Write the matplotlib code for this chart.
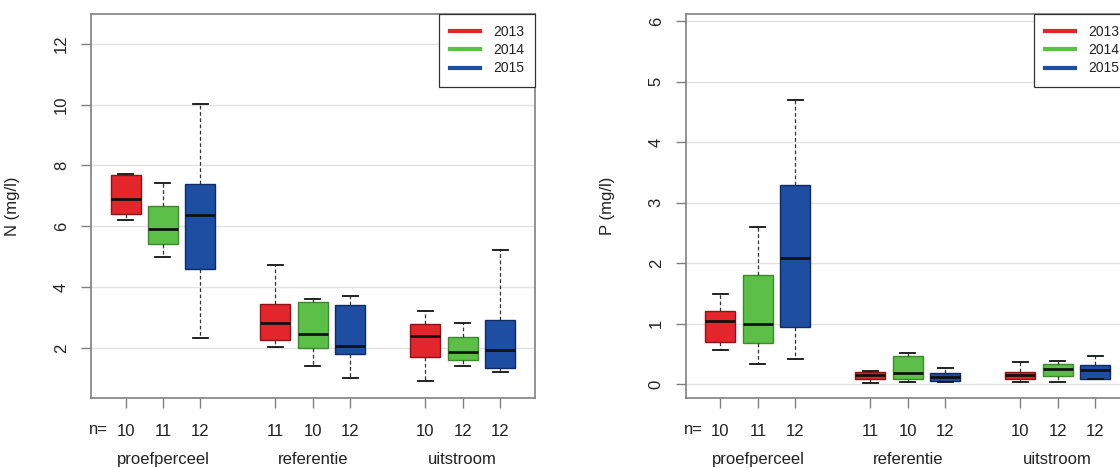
import matplotlib
matplotlib.use("Agg")
import matplotlib.pyplot as plt
from matplotlib.lines import Line2D
from matplotlib.transforms import blended_transform_factory

plt.rcParams["font.family"] = ["Liberation Sans", "DejaVu Sans"]

# Locations and sampling years
locations = ["proefperceel", "referentie", "uitstroom"]
years = ["2013", "2014", "2015"]
year_colors = ["#e3262b", "#5cbf48", "#1d4ea2"]
edge_colors = ["#8e1218", "#3a8a2c", "#102a66"]
positions = [1, 2, 3, 5, 6, 7, 9, 10, 11]
n_counts = ["10", "11", "12", "11", "10", "12", "10", "12", "12"]

# Nitrogen (mg/l): whisker low, Q1, median, Q3, whisker high per box
n_whislo = [6.22, 5.00, 2.33, 2.02, 1.41, 1.01, 0.91, 1.41, 1.21]
n_q1     = [6.40, 5.43, 4.59, 2.26, 1.99, 1.79, 1.70, 1.59, 1.35]
n_med    = [6.90, 5.90, 6.36, 2.80, 2.44, 2.05, 2.40, 1.85, 1.92]
n_q3     = [7.70, 6.65, 7.40, 3.45, 3.52, 3.40, 2.79, 2.36, 2.90]
n_whishi = [7.72, 7.41, 10.02, 4.73, 3.60, 3.72, 3.21, 2.80, 5.22]

# Phosphorus (mg/l)
p_whislo = [0.57, 0.33, 0.42, 0.01, 0.03, 0.04, 0.04, 0.04, 0.08]
p_q1     = [0.70, 0.68, 0.95, 0.08, 0.08, 0.05, 0.08, 0.14, 0.09]
p_med    = [1.04, 1.00, 2.09, 0.15, 0.18, 0.12, 0.15, 0.25, 0.24]
p_q3     = [1.20, 1.80, 3.29, 0.20, 0.46, 0.18, 0.20, 0.33, 0.32]
p_whishi = [1.49, 2.60, 4.69, 0.22, 0.51, 0.27, 0.37, 0.38, 0.47]

TXT = "#222222"
FRAME = "#808080"


def draw_panel(ax, whislo, q1, med, q3, whishi, yticks, ylim, ylabel):
    stats = [dict(whislo=a, q1=b, med=c, q3=d, whishi=e, fliers=[])
             for a, b, c, d, e in zip(whislo, q1, med, q3, whishi)]
    ax.set_ylim(*ylim)
    ax.set_xlim(0.08, 11.93)
    for yv in yticks:
        ax.axhline(yv, color="#e2e2e2", lw=1.0, zorder=0)
    art = ax.bxp(stats, positions=positions, widths=0.8, capwidths=0.4,
                 patch_artist=True, manage_ticks=False,
                 whiskerprops=dict(color="#333333", lw=0.9, linestyle=(0, (3, 2))),
                 capprops=dict(color="#111111", lw=1.3),
                 medianprops=dict(color="#111111", lw=2.0),
                 boxprops=dict(lw=1.0))
    for i, box in enumerate(art["boxes"]):
        box.set_facecolor(year_colors[i % 3])
        box.set_edgecolor(edge_colors[i % 3])

    for sp in ax.spines.values():
        sp.set_color(FRAME)
        sp.set_linewidth(1.2)

    ax.set_yticks(yticks)
    ax.set_yticklabels([str(v) for v in yticks])
    ax.tick_params(axis="y", labelrotation=90, length=7, width=1.0,
                   color=FRAME, labelcolor=TXT, labelsize=12, pad=9)
    for lab in ax.get_yticklabels():
        lab.set_va("center")

    ax.set_xticks(positions)
    ax.set_xticklabels(n_counts)
    ax.tick_params(axis="x", length=7, width=1.0, color=FRAME,
                   labelcolor=TXT, labelsize=12, pad=12)

    tr = blended_transform_factory(ax.transData, ax.transAxes)
    ax.text(0.52, -0.083, "n=", transform=tr, ha="right", va="center",
            fontsize=12, color=TXT)
    for k, loc in enumerate(locations):
        ax.text(positions[3 * k + 1], -0.161, loc, transform=tr,
                ha="center", va="center", fontsize=12, color=TXT)

    ax.set_ylabel(ylabel, fontsize=12, color=TXT)
    ax.yaxis.set_label_coords(-0.16, 0.5)

    handles = [Line2D([0], [0], color=c, lw=3) for c in year_colors]
    leg = ax.legend(handles, years, loc="upper right", bbox_to_anchor=(1, 1),
                    borderaxespad=0, fancybox=False, framealpha=1,
                    edgecolor="#333333", fontsize=10, handlelength=2.2,
                    handletextpad=0.9, labelspacing=0.3, borderpad=0.8)
    leg.get_frame().set_linewidth(0.9)
    for t in leg.get_texts():
        t.set_color(TXT)


fig = plt.figure(figsize=(11.2, 4.68), dpi=100)
ax_n = fig.add_axes([0.0813, 0.1496, 0.3964, 0.8205])
ax_p = fig.add_axes([0.6125, 0.1496, 0.3964, 0.8205])

draw_panel(ax_n, n_whislo, n_q1, n_med, n_q3, n_whishi,
           [2, 4, 6, 8, 10, 12], (0.35, 12.98), "N (mg/l)")
draw_panel(ax_p, p_whislo, p_q1, p_med, p_q3, p_whishi,
           [0, 1, 2, 3, 4, 5, 6], (-0.23, 6.116), "P (mg/l)")

fig.savefig("out.png", dpi=100)
